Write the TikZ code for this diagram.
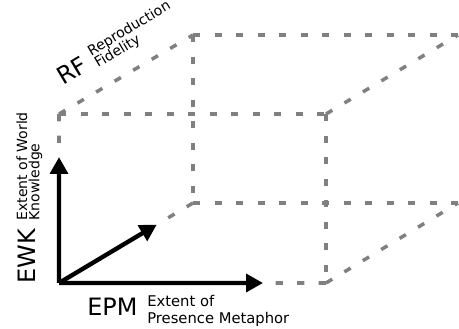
\documentclass[tikz,border=0pt]{standalone}
\usepackage{fontspec}
\setmainfont{DejaVu Sans}
\usetikzlibrary{positioning, arrows.meta, calc}
\definecolor{edgegray}{RGB}{128, 128, 128}

\tikzset{
  axis/.style={line width=3.1pt, -{Triangle[length=4.2mm, width=4.4mm]}},
  hidden/.style={edgegray, line width=2.5pt, dash pattern=on 5.2pt off 10.1pt},
  abbrev/.style={font=\fontsize{17}{20}\selectfont, inner sep=0pt},
  longname/.style={align=left, inner sep=0pt},
}

\begin{document}
\begin{tikzpicture}[x=0.025cm, y=0.025cm]
  \useasboundingbox (0,0) rectangle (459,328);

  % Front face
  \coordinate (O) at (59,45);
  \coordinate (A) at (326,45);
  \coordinate (B) at (59,214);
  \coordinate (C) at (326,214);
  % Back face
  \coordinate (D) at (193,125);
  \coordinate (E) at (458,125);
  \coordinate (F) at (193,293);
  \coordinate (G) at (458,293);
  % Arrow tips
  \coordinate (tipEWK) at ($(O)!0.745!(B)$);
  \coordinate (tipEPM) at ($(O)!0.764!(A)$);
  \coordinate (tipRF) at ($(O)!0.73!(D)$);

  % Dashed edges of the box
  \draw[hidden] (B) -- (C);
  \draw[hidden] (C) -- (A);
  \draw[hidden] (B) -- (F);
  \draw[hidden] (C) -- (G);
  \draw[hidden] (A) -- (E);
  \draw[hidden] (F) -- (G);
  \draw[hidden] (F) -- (D);
  \draw[hidden] (D) -- (E);
  \draw[hidden] (B) -- (tipEWK);
  \draw[hidden] (A) -- (tipEPM);
  \draw[hidden] (D) -- (tipRF);

  % Axes
  \draw[axis] (O) -- (tipEWK);
  \draw[axis] (O) -- (tipEPM);
  \draw[axis] (O) -- (tipRF);

  % Labels (multi-line nodes sit on their last baseline)
  \node[abbrev, anchor=base west] (epm) at (87,12) {EPM};
  \node[longname, font=\fontsize{10.5}{11.9}\selectfont, anchor=base west] (epmname) at (147,4.7) {Extent of\\Presence Metaphor};
  \node[abbrev, rotate=90, anchor=base west] (ewk) at (35,44) {EWK};
  \node[longname, font=\fontsize{10}{8.7}\selectfont, rotate=90, anchor=base west] (ewkname) at (39.3,107) {Extent of World\\Knowledge};
  \node[abbrev, rotate=30.8, anchor=base west] (rf) at (63,242) {RF};
  \node[longname, font=\fontsize{10}{9.7}\selectfont, rotate=30.8, anchor=base west] (rfname) at (98,260) {Reproduction\\Fidelity};
\end{tikzpicture}
\end{document}
